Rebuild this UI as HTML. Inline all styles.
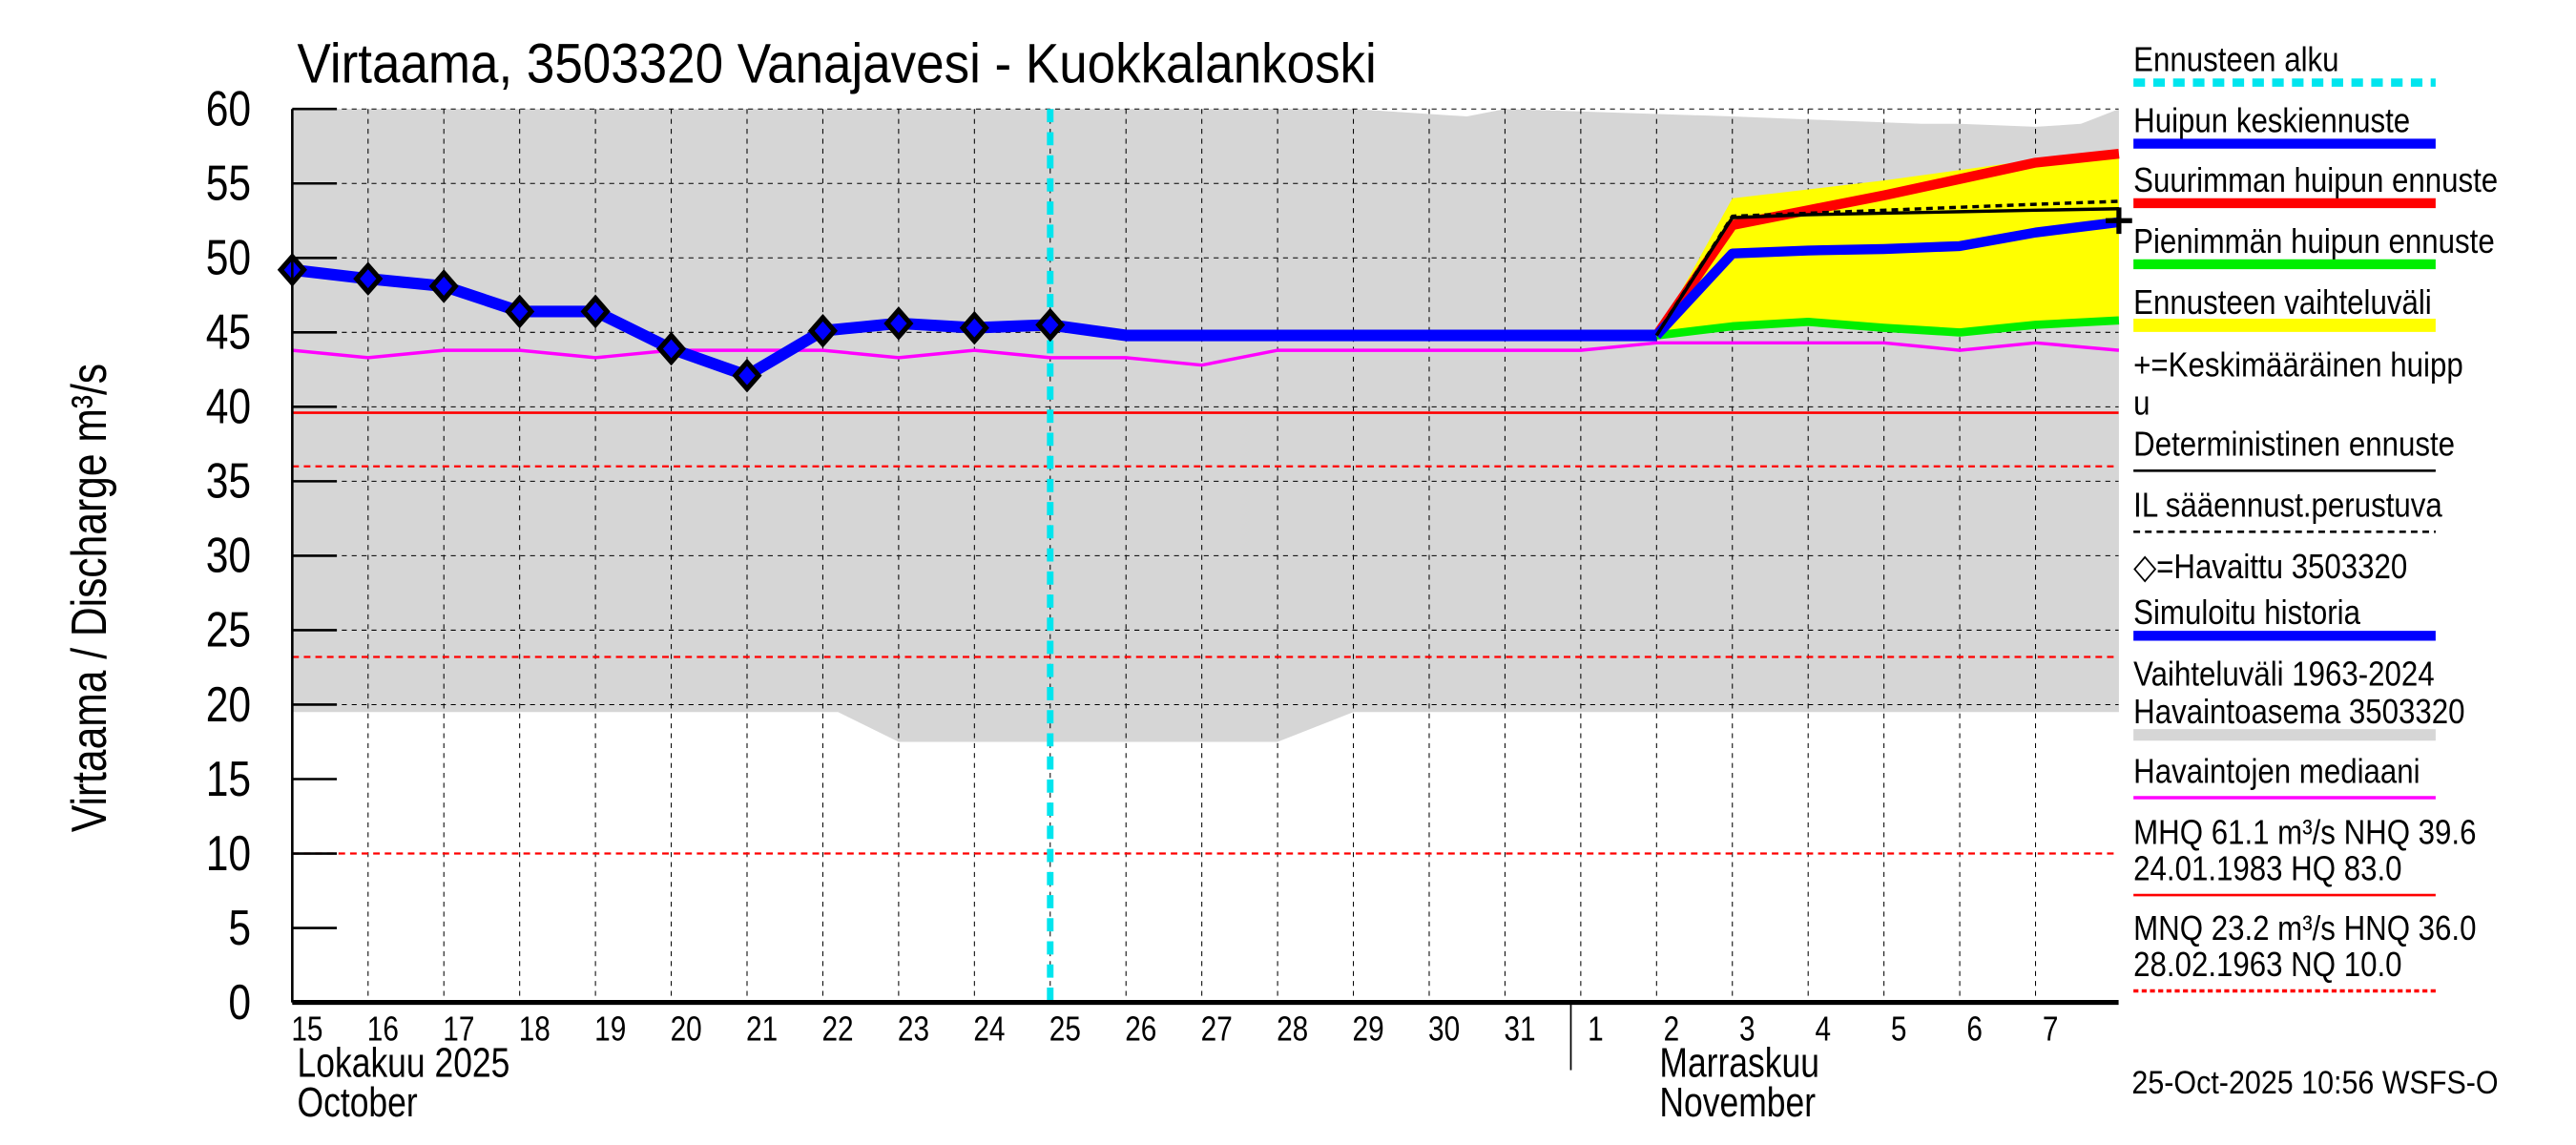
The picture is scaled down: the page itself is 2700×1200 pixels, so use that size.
<!DOCTYPE html>
<html><head><meta charset="utf-8"><style>
html,body{margin:0;padding:0;background:#fff;}
svg{display:block;font-family:"Liberation Sans",sans-serif;}
</style></head><body>
<svg id="chart" width="2700" height="1200" viewBox="0 0 1560 693.33" xmlns="http://www.w3.org/2000/svg">
<g id="plot"></g>
<g id="axes"></g>
<g id="legend"></g>
</svg>
<script>
const dayLabels=["15","16","17","18","19","20","21","22","23","24","25","26","27","28","29","30","31","1","2","3","4","5","6","7"];
const yTicks=[0,5,10,15,20,25,30,35,40,45,50,55,60];
const obsDays=[0,1,2,3,4,5,6,7,8,9,10];
const obsValues=[49.2,48.6,48.1,46.4,46.4,43.9,42.1,45.1,45.6,45.3,45.5];
const simDays=[0,1,2,3,4,5,6,7,8,9,10,11,18];
const simValues=[49.2,48.6,48.1,46.4,46.4,43.9,42.1,45.1,45.6,45.3,45.5,44.8,44.8];
const fcDays=[18,19,20,21,22,23,24.1];
const meanFc=[44.8,50.3,50.5,50.6,50.8,51.7,52.4];
const maxFc=[44.8,52.2,53.2,54.2,55.3,56.4,57.0];
const minFc=[44.8,45.4,45.7,45.3,45.0,45.5,45.8];
const bandUpper=[44.8,54.0,54.6,55.2,55.9,56.6,56.7];
const detFc=[44.8,52.7,52.9,53.0,53.1,53.2,53.3];
const ilFc=[44.8,52.8,53.0,53.2,53.4,53.6,53.8];
const medDays=[0,1,2,3,4,5,6,7,8,9,10,11,12,13,14,15,16,17,18,19,20,21,22,23,24.1];
const medValues=[43.8,43.3,43.8,43.8,43.3,43.8,43.8,43.8,43.3,43.8,43.3,43.3,42.8,43.8,43.8,43.8,43.8,43.8,44.3,44.3,44.3,44.3,43.8,44.3,43.8];
const histDays=[0,7.2,8,13,14,15.5,16,19,21.5,22,23,23.6,24.1];
const histLow=[19.5,19.5,17.5,17.5,19.5,19.5,19.5,19.5,19.5,19.5,19.5,19.5,19.5];
const histHigh=[60,60,60,60,60,59.5,60,59.5,59.0,59.0,58.8,59.0,60];
const refLevels=[39.6,36.0,23.2,10.0];
const refDashed=[false,true,true,true];
const fcStartDay=10;
const plusDay=24.1, plusValue=52.5;

const NS="http://www.w3.org/2000/svg";
const X0=177,X1=1283,Y0=607,Y60=66;
const xs=d=>X0+d*45.9;
const ys=v=>Y0-(v/60)*(Y0-Y60);
function mk(tag,attrs,parent,txt){const e=document.createElementNS(NS,tag);for(const k in attrs)e.setAttribute(k,attrs[k]);if(txt!==undefined)e.textContent=txt;parent.appendChild(e);return e;}
function tx(x,y,size,str,parent,anchor,rot,sx){sx=sx||0.82;const tr=`translate(${x},${y})`+(rot?` rotate(${rot})`:'')+` scale(${sx},1)`;return mk('text',{x:0,y:0,'font-size':size,'text-anchor':anchor||'start',transform:tr},parent,str);}
const plot=document.getElementById('plot'),axes=document.getElementById('axes'),leg=document.getElementById('legend');
function pts(d,v){return d.map((x,i)=>xs(x).toFixed(1)+','+ys(v[i]).toFixed(1)).join(' ');}

let bandPts=pts(histDays,histHigh)+' '+pts(histDays.slice().reverse(),histLow.slice().reverse());
let band=mk('polygon',{points:bandPts,fill:'#d6d6d6'},plot);


for(let i=1;i<24;i++){const g=mk('line',{x1:xs(i),x2:xs(i),y1:Y60,y2:Y0,stroke:'#000','stroke-width':0.6,'stroke-dasharray':'3,3'},plot);

}
yTicks.forEach(t=>{if(t>=20){const g=mk('line',{x1:X0,x2:X1,y1:ys(t),y2:ys(t),stroke:'#000','stroke-width':0.6,'stroke-dasharray':'3,3'},plot);

}});
let yb=mk('polygon',{points:pts(fcDays,bandUpper)+' '+pts(fcDays.slice().reverse(),minFc.slice().reverse()),fill:'#ffff00'},plot);


refLevels.forEach((v,i)=>{const l=mk('line',{x1:X0,x2:X1,y1:ys(v),y2:ys(v),stroke:'#f00','stroke-width':refDashed[i]?1.3:1.5,'stroke-dasharray':refDashed[i]?'4,3':'none'},plot);

});
let med=mk('polyline',{points:pts(medDays,medValues),fill:'none',stroke:'#ff00ff','stroke-width':2},plot);


let cy=mk('line',{x1:xs(fcStartDay),x2:xs(fcStartDay),y1:Y60,y2:Y0,stroke:'#00e5ee','stroke-width':4,'stroke-dasharray':'8,6'},plot);


function line(d,v,c,w,name,dash){const l=mk('polyline',{points:pts(d,v),fill:'none',stroke:c,'stroke-width':w,'stroke-linejoin':'round','stroke-dasharray':dash||'none'},plot);

}
line(fcDays,minFc,'#00ee00',5,'min-peak-forecast');
line(fcDays,maxFc,'#ff0000',6,'max-peak-forecast');
line(simDays,simValues,'#0000ff',7,'simulated-history');
line(fcDays,meanFc,'#0000ff',6,'mean-peak-forecast');
line(fcDays,ilFc,'#000',2,'il-forecast','4,3');
line(fcDays,detFc,'#000',2,'deterministic-forecast');
obsDays.forEach((d,i)=>{const x=xs(d),y=ys(obsValues[i]);const m=mk('polygon',{points:`${x},${y-8} ${x+7},${y} ${x},${y+8} ${x-7},${y}`,fill:'#0000ff',stroke:'#000','stroke-width':3},plot);

});
let px=xs(plusDay),py=ys(plusValue);
let pl=mk('path',{d:`M${px-8},${py}H${px+8}M${px},${py-8}V${py+8}`,stroke:'#000','stroke-width':3},plot);


mk('line',{x1:X0,x2:X0,y1:Y60,y2:Y0,stroke:'#000','stroke-width':1.5},axes);
mk('line',{x1:X0,x2:X1,y1:Y0,y2:Y0,stroke:'#000','stroke-width':3},axes);
yTicks.forEach(t=>{mk('line',{x1:X0,x2:X0+27,y1:ys(t),y2:ys(t),stroke:'#000','stroke-width':1.5},axes);
const lb=tx(152,ys(t)+10,30,t,axes,'end');

});
dayLabels.forEach((s,i)=>{const lb=tx(xs(i)+9,630,21,s,axes,'middle');

});
mk('line',{x1:xs(17)-6,x2:xs(17)-6,y1:Y0,y2:648,stroke:'#000','stroke-width':1},axes);
const txts=[[180,652,25,'Lokakuu  2025','month-label-fi'],[180,676,25,'October','month-label-en'],[1005,652,25,'Marraskuu','month-label-fi-nov'],[1005,676,25,'November','month-label-en-nov'],[1291,662,20,'25-Oct-2025 10:56 WSFS-O','timestamp']];
txts.forEach(t=>{const e=tx(t[0],t[1],t[2],t[3],axes,null,null,t[4]==='timestamp'?0.88:0.82);

});
let ti=tx(180,50,34,'Virtaama, 3503320 Vanajavesi - Kuokkalankoski',axes,null,null,0.9);


let yl=tx(64,362,30,'Virtaama / Discharge     m³/s',axes,'middle',-90);


const L=[['Ennusteen alku','#00e5ee',5,'7,5',43],['Huipun keskiennuste','#0000ff',6,'',80],['Suurimman huipun ennuste','#ff0000',6,'',116],['Pienimmän huipun ennuste','#00ee00',6,'',153],['Ennusteen vaihteluväli','#ffff00',8,'',190],['+=Keskimääräinen huipp','',0,'',228],['u','',0,'',251],['Deterministinen ennuste','#000',1.5,'',276],['IL sääennust.perustuva','#000',1.5,'4,3',313],['◇=Havaittu 3503320','',0,'',350],['Simuloitu historia','#0000ff',6,'',378],['Vaihteluväli 1963-2024','',0,'',415],[' Havaintoasema 3503320','#d6d6d6',7,'',438],['Havaintojen mediaani','#ff00ff',2,'',474],['MHQ 61.1 m³/s NHQ 39.6','',0,'',511],['24.01.1983 HQ 83.0','#ff0000',1.5,'',533],['MNQ 23.2 m³/s HNQ 36.0','',0,'',569],['28.02.1963 NQ 10.0','#ff0000',2,'3,2',591]];
L.forEach(e=>{const t=tx(1292,e[4],21,e[0],leg,null,null,0.86);


if(e[1]){const yy=e[4]+(e[2]>=5?7:9);const l=mk('line',{x1:1292,x2:1475,y1:yy,y2:yy,stroke:e[1],'stroke-width':e[2],'stroke-dasharray':e[3]||'none'},leg);

}});
</script>
</body></html>
